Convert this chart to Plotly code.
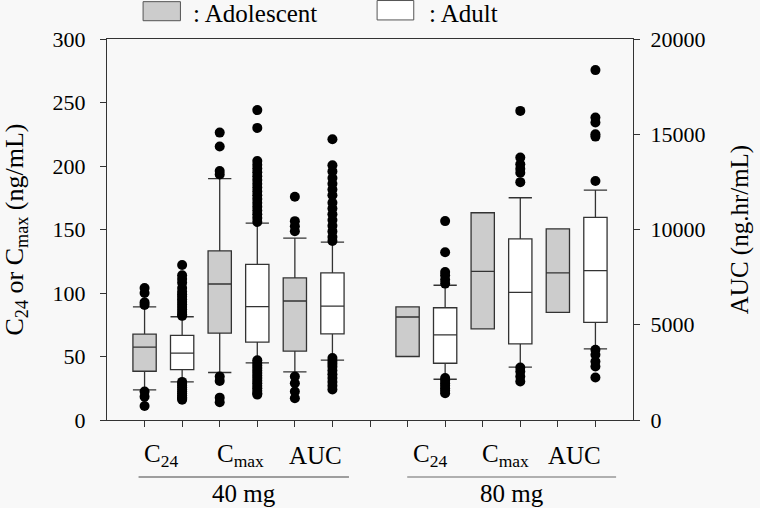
import plotly.graph_objects as go

# ---- data ----
positions = [1, 2, 3, 4, 5, 6, 8, 9, 10, 11, 12, 13]
groups = ["Adolescent", "Adult"] * 6
axis_of = ["y", "y", "y", "y", "y2", "y2", "y", "y", "y", "y", "y2", "y2"]
q1 = [38.4, 39.7, 68.4, 61.3, 3614, 4526, 50.0, 44.7, 71.8, 60.0, 5649, 5123]
median = [57.4, 52.6, 107.1, 89.2, 6246, 5982, 81.1, 67.1, 117.1, 100.5, 7719, 7842]
q3 = [67.6, 66.6, 133.2, 122.6, 7456, 7719, 89.0, 88.4, 163.2, 142.6, 10035, 10632]
lowerfence = [23.7, 30.0, 37.4, 45.0, 2526, 3140, 50.0, 32.1, 71.8, 41.6, 5649, 3737]
upperfence = [89.0, 81.3, 190.0, 155.0, 9544, 9333, 89.0, 106.1, 163.2, 175.0, 10035, 12070]
outliers = [
    [104, 100, 92.6, 90.5, 22.4, 18.4, 11],
    [122, 114, 111, 108, 104, 101, 99, 97, 95, 93, 91, 89, 87, 85, 83, 82,
     30, 28.5, 27, 25.5, 24, 22.5, 21, 19.5, 18, 17, 16],
    [226.3, 215.3, 196.1, 193.4, 34.2, 30.8, 17.6, 14.0],
    [244, 230, 204, 201, 198, 195, 192, 189, 186, 183, 180, 177, 174, 171, 168, 165, 162, 159, 156,
     47, 45, 43, 41, 39, 37, 35, 33, 31, 29, 27, 25, 23, 21, 20],
    [11719, 10439, 10175, 9912, 2281, 1930, 1491, 1140],
    [14737, 13370, 13050, 12700, 12400, 12100, 11800, 11400, 11100, 10800, 10500, 10200, 9900, 9600, 9400,
     3250, 3100, 2950, 2800, 2600, 2400, 2200, 2000, 1800, 1600],
    [],
    [156.6, 132.1, 116.6, 113.9, 110.5, 107.4, 33, 31, 29, 27, 25, 23, 21],
    [],
    [243.4, 206.6, 201.3, 197.9, 194.7, 187.3, 41.3, 38.2, 34.2, 30.3],
    [],
    [18368, 15877, 15614, 15000, 14877, 12544, 3684, 3421, 3070, 2807, 2228],
]
cat_labels = ["C<sub>24</sub>", "C<sub>max</sub>", "AUC"]
cat_pos = [1.45, 3.55, 5.55, 8.6, 10.6, 12.45]
dose_labels = ["40 mg", "80 mg"]
dose_pos = [3.64, 10.78]
left_ticks = [0, 50, 100, 150, 200, 250, 300]
right_ticks = [0, 5000, 10000, 15000, 20000]
right_tick_text = ["0", "5000", "10000", "15000", "20000"]

FONT = "Liberation Serif, Times New Roman, serif"
BG = "#f8f8f8"
AX = "#333333"
fill_of = {"Adolescent": "#cccccc", "Adult": "#ffffff"}

fig = go.Figure()
for i, p in enumerate(positions):
    fig.add_trace(go.Box(
        x=[p], q1=[q1[i]], median=[median[i]], q3=[q3[i]],
        lowerfence=[lowerfence[i]], upperfence=[upperfence[i]],
        width=0.62, whiskerwidth=1, fillcolor=fill_of[groups[i]],
        line=dict(color="#333333", width=1.3), yaxis=axis_of[i],
        showlegend=False, hoverinfo="skip", boxpoints=False))
    if outliers[i]:
        fig.add_trace(go.Scatter(
            x=[p] * len(outliers[i]), y=outliers[i], mode="markers",
            marker=dict(color="black", size=10), yaxis=axis_of[i],
            showlegend=False, hoverinfo="skip"))

fig.update_layout(
    width=760, height=508, boxmode="overlay",
    paper_bgcolor=BG, plot_bgcolor=BG,
    margin=dict(l=106, r=119, t=39, b=88),
    font=dict(family=FONT, size=22, color="black"),
    xaxis=dict(range=[0, 14], tickvals=list(range(1, 14)), showticklabels=False,
               ticks="outside", ticklen=6, tickcolor=AX, showline=True,
               linecolor=AX, linewidth=1.3, mirror=True, showgrid=False,
               zeroline=False),
    yaxis=dict(range=[0, 300], tickvals=left_ticks, ticks="outside", ticklen=6,
               tickcolor=AX, showline=True, linecolor=AX, linewidth=1.3,
               showgrid=False, zeroline=False, tickfont=dict(family=FONT, size=22),
               ticklabelstandoff=10,
               title=dict(text="C<sub>24</sub> or C<sub>max</sub> (ng/mL)",
                          font=dict(family=FONT, size=26), standoff=22)),
    yaxis2=dict(range=[0, 20000], tickvals=right_ticks, ticktext=right_tick_text,
                overlaying="y", side="right",
                ticks="outside", ticklen=6, tickcolor=AX, showline=True,
                linecolor=AX, linewidth=1.3, showgrid=False, zeroline=False,
                tickfont=dict(family=FONT, size=22), ticklabelstandoff=6,
                title=dict(text="AUC (ng.hr/mL)", font=dict(family=FONT, size=25), standoff=25)),
)

for j, xp in enumerate(cat_pos):
    fig.add_annotation(x=xp, y=-0.093, xref="x", yref="paper", text=cat_labels[j % 3],
                       showarrow=False, font=dict(family=FONT, size=25), yanchor="middle")
for j, xp in enumerate(dose_pos):
    fig.add_annotation(x=xp, y=-0.194, xref="x", yref="paper", text=dose_labels[j],
                       showarrow=False, font=dict(family=FONT, size=25), yanchor="middle")
fig.add_shape(type="line", xref="x", yref="paper", x0=0.84, x1=6.44, y0=-0.1496, y1=-0.1496,
              line=dict(color="#444444", width=1.2))
fig.add_shape(type="line", xref="x", yref="paper", x0=7.99, x1=13.55, y0=-0.1496, y1=-0.1496,
              line=dict(color="#999999", width=1.3))

# legend drawn manually
fig.add_shape(type="rect", xref="paper", yref="paper", x0=0.0686, x1=0.1396, y0=1.048, y1=1.098,
              fillcolor="#cccccc", line=dict(color="#555555", width=1))
fig.add_shape(type="rect", xref="paper", yref="paper", x0=0.5135, x1=0.5832, y0=1.050, y1=1.101,
              fillcolor="#ffffff", line=dict(color="#555555", width=1))
fig.add_annotation(x=0.1605, y=1.068, xref="paper", yref="paper", text=": Adolescent",
                   showarrow=False, xanchor="left", yanchor="middle",
                   font=dict(family=FONT, size=25))
fig.add_annotation(x=0.6086, y=1.068, xref="paper", yref="paper", text=": Adult",
                   showarrow=False, xanchor="left", yanchor="middle",
                   font=dict(family=FONT, size=25))

fig.write_html("out.html", config={"displayModeBar": False},
               post_script="document.body.style.margin='0';"
                           "document.body.style.background='%s';"
                           "document.body.style.overflow='hidden';" % BG)
